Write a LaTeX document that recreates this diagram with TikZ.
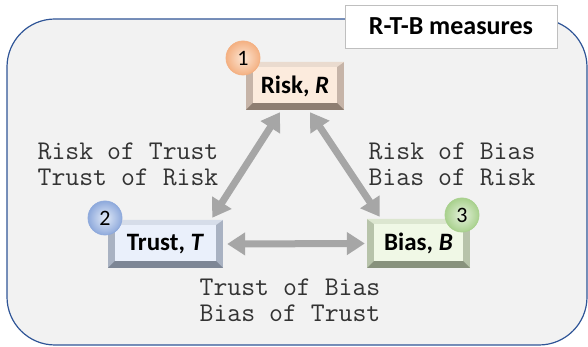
\documentclass[tikz,border=0pt]{standalone}
\usepackage{fontspec}
\setmainfont{Carlito}
\usepackage{tikz}
\usetikzlibrary{arrows.meta,calc}

\definecolor{panel}{HTML}{F2F2F2}
\definecolor{frame}{HTML}{2F5597}
\definecolor{arrowgray}{HTML}{A6A6A6}
\definecolor{txtgray}{HTML}{333333}
% box colours: face, side, bottom, top
\definecolor{rface}{HTML}{FCEBDD}\definecolor{rside}{HTML}{C6B4A8}
\definecolor{rdark}{HTML}{8E7E72}\definecolor{rtop}{HTML}{EADBCF}
\definecolor{tface}{HTML}{EAF0FB}\definecolor{tside}{HTML}{A9B2C2}
\definecolor{tdark}{HTML}{7D8695}\definecolor{ttop}{HTML}{D6DDE9}
\definecolor{bface}{HTML}{F0F8E6}\definecolor{bside}{HTML}{B7C3AA}
\definecolor{bdark}{HTML}{88927D}\definecolor{btop}{HTML}{DCE6D0}
% badge colours
\definecolor{rin}{HTML}{FCE6D4}\definecolor{rout}{HTML}{F4B183}
\definecolor{tin}{HTML}{E3EBF8}\definecolor{tout}{HTML}{8FAADC}
\definecolor{bin}{HTML}{E6F2DD}\definecolor{bout}{HTML}{A9D18E}

\begin{document}
\begin{tikzpicture}[x=1pt, y=1pt,
    rtb/.style n args={4}{rectangle, inner sep=0pt, font=\fontsize{25}{28}\selectfont\bfseries,
      path picture={
        \path (path picture bounding box.south west) coordinate (sw)
              (path picture bounding box.north east) coordinate (ne);
        \fill[#2] (sw) rectangle (ne);
        \fill[#3] (sw) -- (sw -| ne) -- ($(sw -| ne)+(-7pt,7pt)$) -- ($(sw)+(7pt,7pt)$) -- cycle;
        \fill[#4] (sw |- ne) -- (ne) -- ($(ne)+(-7pt,-5pt)$) -- ($(sw |- ne)+(7pt,-5pt)$) -- cycle;
        \fill[#1] ($(sw)+(7pt,7pt)$) rectangle ($(ne)+(-7pt,-5pt)$);
      }},
    badge/.style 2 args={circle, minimum size=34pt, inner sep=0pt, shading=radial,
      inner color=#1, outer color=#2, draw=#2, line width=0.8pt,
      font=\fontsize{22}{24}\selectfont},
    link/.style={draw=arrowgray, line width=7pt,
      {Triangle[width=22pt,length=18pt]}-{Triangle[width=22pt,length=18pt]}},
    lbl/.style={align=center, text=txtgray, font=\fontsize{27}{26}\selectfont\ttfamily}]

  \useasboundingbox (0,0) rectangle (588,347);
  \draw[frame, fill=panel, line width=1.2pt, rounded corners=48pt] (7,2) rectangle (587,328);

  \node[draw=black!25, fill=white, minimum width=212pt, minimum height=43pt,
        font=\fontsize{26}{28}\selectfont\bfseries] (title) at (451,320.5) {R-T-B measures};

  \node[rtb={rface}{rside}{rdark}{rtop}, minimum width=98pt, minimum height=48pt] (risk) at (295,261) {Risk, \textit{R}};
  \node[rtb={tface}{tside}{tdark}{ttop}, minimum width=115pt, minimum height=48pt] (trust) at (165.5,103) {Trust, \textit{T}};
  \node[rtb={bface}{bside}{bdark}{btop}, minimum width=103pt, minimum height=49pt] (bias) at (418.5,103.5) {Bias, \textit{B}};

  \node[badge={rin}{rout}] (b1) at (243,289) {1};
  \node[badge={tin}{tout}] (b2) at (105,129) {2};
  \node[badge={bin}{bout}] (b3) at (462,132) {3};

  \draw[link] ([xshift=-15pt,yshift=-2pt]risk.south) -- ([xshift=-11pt,yshift=2pt]trust.north east);
  \draw[link] ([xshift=15pt,yshift=-2pt]risk.south) -- ([xshift=13pt,yshift=2pt]bias.north west);
  \draw[link] ([xshift=4pt]trust.east) -- ([xshift=-2pt]bias.west);

  \node[lbl] (rt) at (128,183) {Risk of Trust\\Trust of Risk};
  \node[lbl] (rb) at (452,183) {Risk of Bias\\Bias of Risk};
  \node[lbl] (tb) at (290,47) {Trust of Bias\\Bias of Trust};
\end{tikzpicture}
\end{document}
